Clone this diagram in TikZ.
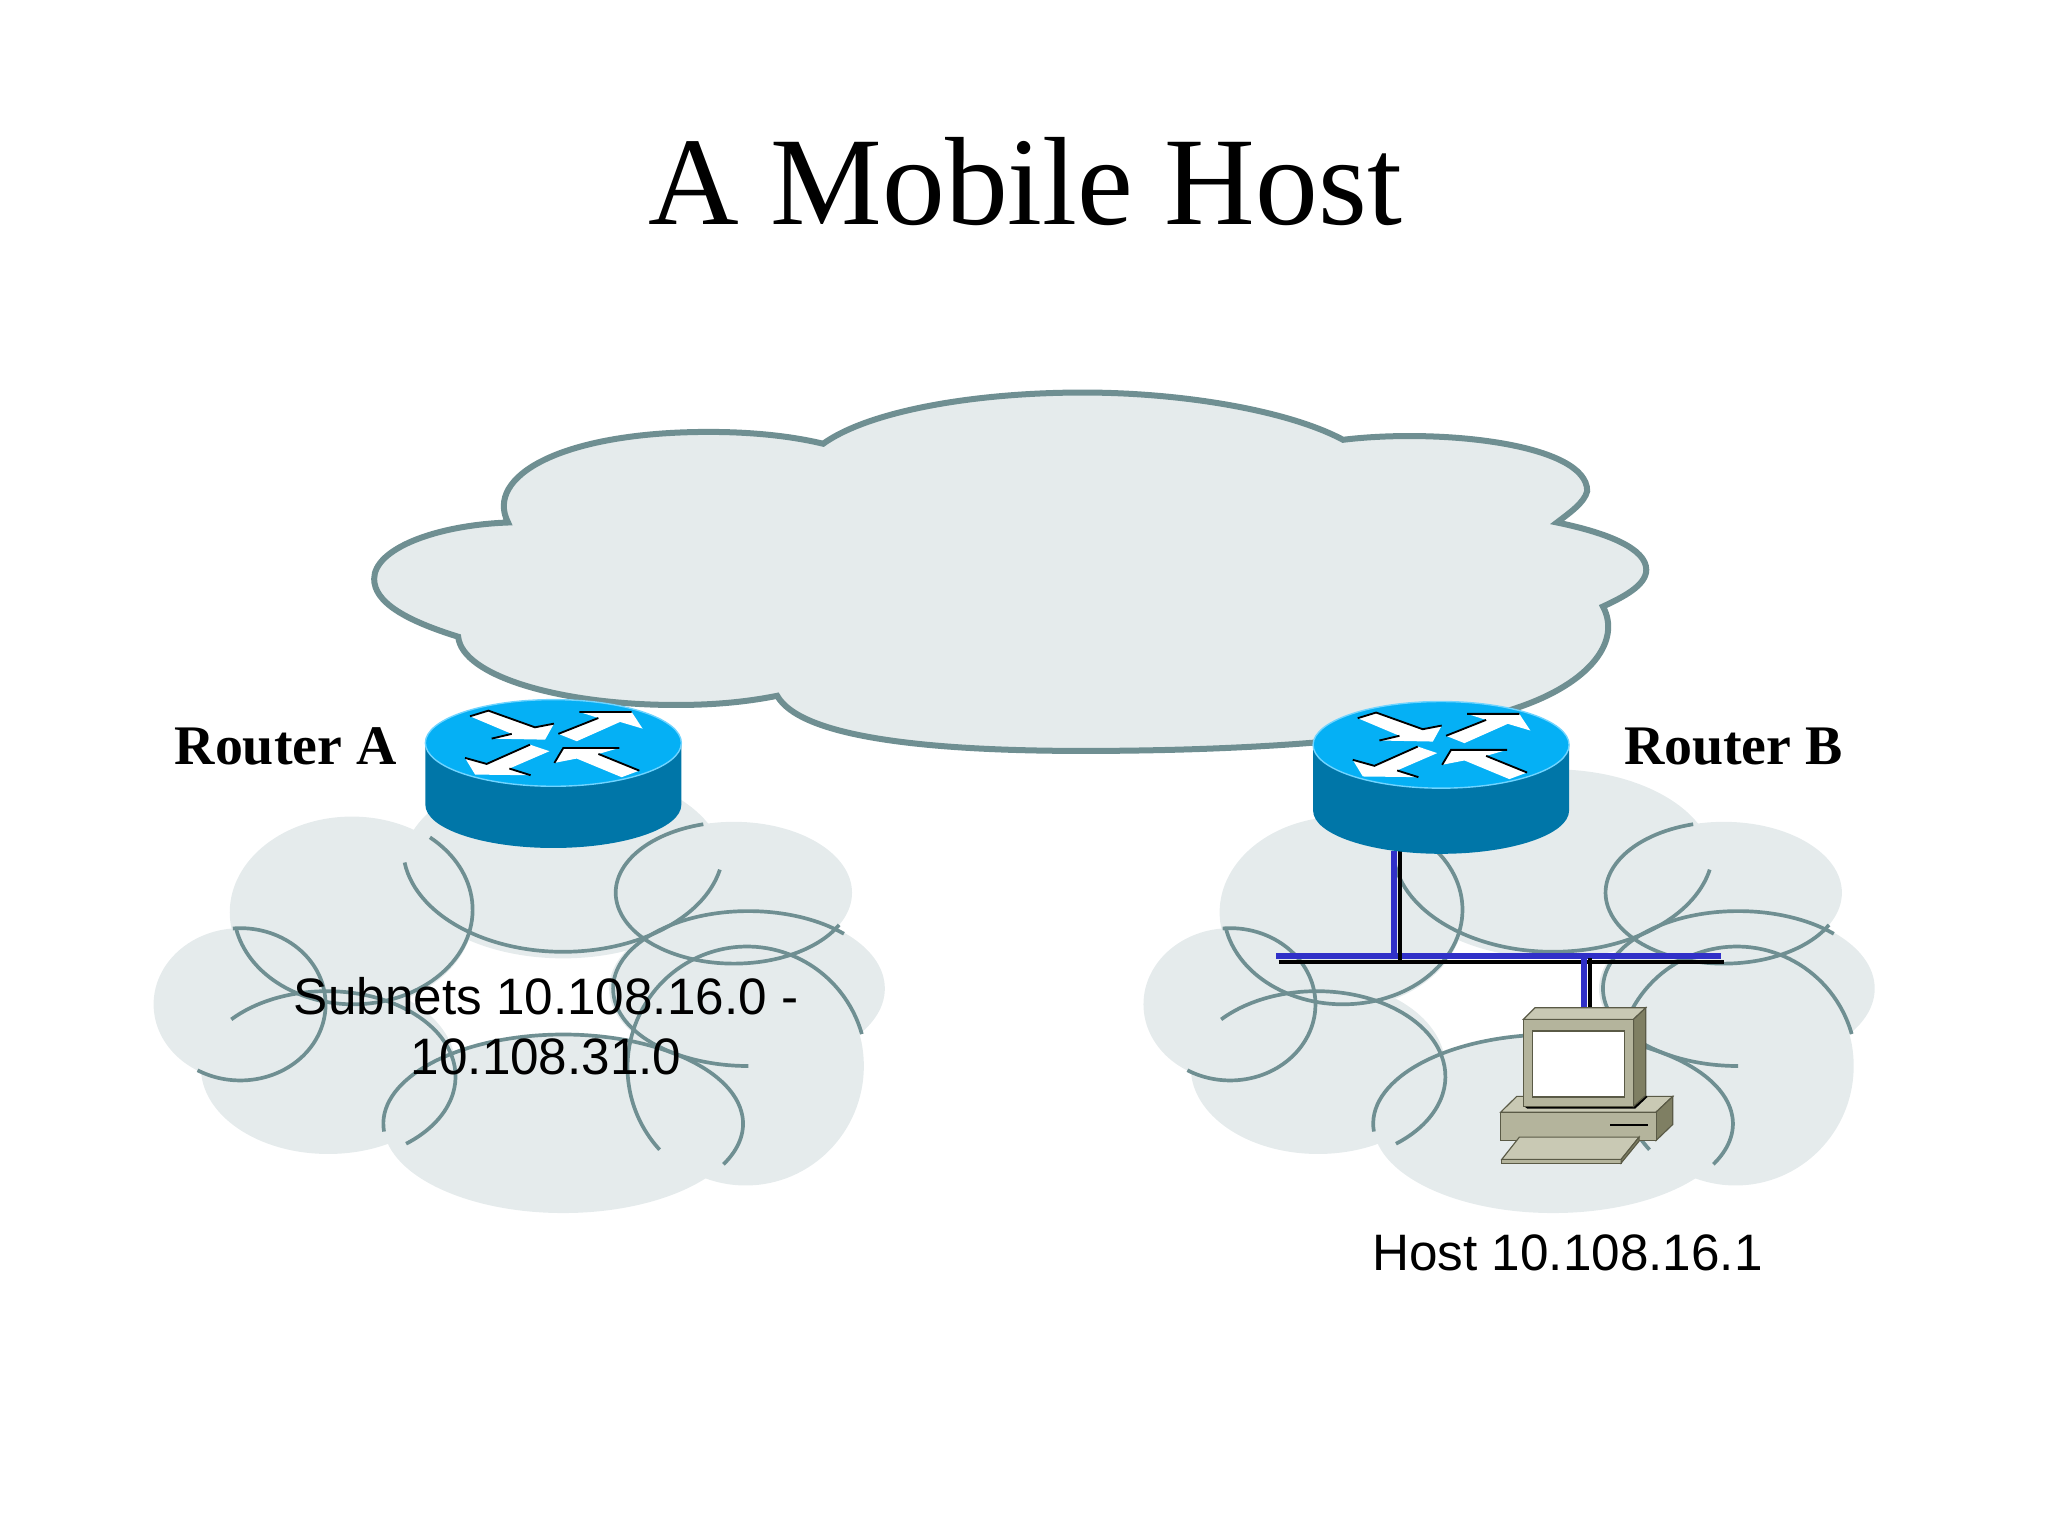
\documentclass[tikz,border=0pt]{standalone}
\usepackage{fontspec}
\setmainfont{Liberation Serif}
\setsansfont{Liberation Sans}
\usepackage{tikz}
\usetikzlibrary{positioning,calc}
\usepackage{xcolor}
\definecolor{cloudfill}{HTML}{E5EBEC}
\definecolor{cloudline}{HTML}{6F8F92}
\definecolor{routertop}{HTML}{05B0F5}
\definecolor{routerside}{HTML}{0076A8}
\definecolor{routerrim}{HTML}{70D4FF}
\definecolor{busblue}{HTML}{3030C8}
\definecolor{pcfront}{HTML}{B4B49C}
\definecolor{pctop}{HTML}{C9C9B4}
\definecolor{pcside}{HTML}{7F7F63}
\definecolor{pcedge}{HTML}{5A5A46}
%路由器:#1为node代号,#2为侧面高度
\newcommand{\routerdraw}[2]{
	\begin{scope}[shift={(#1.north)}]
		\fill[routerside] (-97.5,33)--(-97.5,33+#2) arc[start angle=180,end angle=0,x radius=97.5,y radius=33]--(97.5,33)--cycle;
		\draw[routerrim,fill=routertop,line width=.3pt] (0,33) ellipse [x radius=97.5,y radius=33];
		%四个白色箭头
		\begin{scope}[shift={(0,33)}]
			\fill[white] (-63.5,-20.3)--(-49.5,-24.6)--(-14,-11.9)--(.5,-14.7)--(-6.3,-2.5)--(-47,-3.3)--(-31.7,-6.9)--cycle;
			\fill[white] (3.8,-6.9)--(34.3,-19)--(19.8,-23.6)--(59.6,-23.6)--(68,-10.9)--(50.8,-16)--(17.8,-1.3)--cycle;
			\fill[white] (-67.3,11.4)--(-50.8,16)--(-17.8,1.3)--(-3,6.3)--(-33.5,19.5)--(-17.3,24.6)--(-59.6,24.1)--cycle;
			\fill[white] (7.6,3.8)--(.8,15.2)--(17.8,11.9)--(52,26.1)--(65.5,21.1)--(34.3,8.4)--(50.3,3.8)--cycle;
			\draw[arrowedge] (-63.5,-20.3)--(-49.5,-24.6)--(-14,-11.9)--(.5,-14.7) (-47,-3.3)--(-31.7,-6.9);
			\draw[arrowedge] (3.8,-6.9)--(34.3,-19) (19.8,-23.6)--(59.6,-23.6);
			\draw[arrowedge] (-67.3,11.4)--(-50.8,16)--(-17.8,1.3) (-33.5,19.5)--(-17.3,24.6);
			\draw[arrowedge] (.8,15.2)--(7.6,3.8)--(50.3,3.8) (34.3,8.4)--(65.5,21.1);
		\end{scope}
	\end{scope}
}
%下方的子网云:#1为水平偏移
\newcommand{\subnetcloud}[1]{
	\begin{scope}[shift={(#1,-2)}]
		\foreach \cx/\cy/\rx/\ry in {269/697/93/73,430/660/122/72,560/682/90/54,184/767/66/58,570/755/105/60,251/815/97/66,430/858/137/68,569/814/90/91}
			\fill[cloudfill] (\cx,\cy) ellipse [x radius=\rx,y radius=\ry];
		%内部弧线
		\foreach \cx/\cy/\rx/\ry/\sa/\ea in {270/695/91/72/-50/168,430/648/122/79/172/12,560/682/90/54/255/27,571/755/103/59/315/90,570/815/91/92/344/137,430/858/137/68/175/387,250/822/98/65/222/412,184/767/65/58/-95/120}
			\draw[subnetline] (\cx,\cy) ++(\sa:{\rx} and {\ry}) arc[start angle=\sa,end angle=\ea,x radius=\rx,y radius=\ry];
	\end{scope}
}

\begin{document}
\begin{tikzpicture}
				[x=.01cm,y=-.01cm,semithick]
				\tikzstyle{subnetline}=[draw=cloudline,line width=.8pt]
				\tikzstyle{arrowedge}=[draw=black,line width=.4pt]
				\tikzstyle{routerbox}=[inner sep=0pt,minimum width=1.95cm]
				\tikzstyle{hostbox}=[inner sep=0pt,minimum width=1.31cm,minimum height=1.18cm]
				\tikzstyle{bluecable}=[draw=busblue,line width=1.3pt]
				\tikzstyle{blackcable}=[draw=black,line width=.9pt]
				\tikzstyle{pcline}=[draw=pcedge,line width=.25pt]
				\tikzstyle{routerlabel}=[inner sep=0pt,anchor=base west,font=\fontsize{12.1}{14}\selectfont\bfseries]
				\tikzstyle{plainlabel}=[inner sep=0pt,font=\fontsize{11.1}{13}\selectfont\sffamily]
				\useasboundingbox (0,0) rectangle (1560,1170);
				%标题
				\node[inner sep=0pt,anchor=base,font=\fontsize{27.2}{32}\selectfont] (title) at (781,171) {A Mobile Host};
				%上方大云
				\draw[shift={(-3,-2)},fill=cloudfill,draw=cloudline,line width=1.3pt,line join=miter]
				(630,340) .. controls (665,315) and (745,301) .. (828,301)
				.. controls (905,301) and (985,315) .. (1026,337)
				.. controls (1100,328) and (1212,340) .. (1212,376)
				.. controls (1210,385) and (1198,393) .. (1189,400)
				.. controls (1228,408) and (1257,420) .. (1257,436)
				.. controls (1257,448) and (1239,457) .. (1224,464)
				.. controls (1238,490) and (1215,522) .. (1159,541)
				.. controls (1090,566) and (950,574) .. (828,574)
				.. controls (700,574) and (612,562) .. (595,532)
				.. controls (570,537) and (545,539) .. (518,539)
				.. controls (430,539) and (355,517) .. (352,487)
				.. controls (310,474) and (288,460) .. (288,443)
				.. controls (288,420) and (335,402) .. (390,400)
				.. controls (372,365) and (430,331) .. (543,331)
				.. controls (575,331) and (605,334) .. cycle;
				%两侧子网云
				\subnetcloud{-1}
				\subnetcloud{753}
				%路由器与主机的node
				\node[routerbox,minimum height=1.13cm](routerA) at (421.5,590.5)  {};
				\node[routerbox,minimum height=1.175cm](routerB) at (1097.7,594.2) {};
				\node[hostbox](host) at (1208.6,827)                               {};
				\coordinate (busL) at (974,730);
				\coordinate (busR) at (1313,730);
				\coordinate (drop) at ([shift={(-34,-6)}]routerB.south);
				%总线,蓝线在上,黑线在下
				\path
				([shift={(0,2.5)}]busL)edge[blackcable]     ([shift={(0,2.5)}]busR)
				([shift={(-2,-2)}]busL)edge[bluecable]      ([shift={(-2,-2)}]busR)
				;
				\draw[blackcable] ([shift={(2.5,0)}]drop) -- ([shift={(2.5,3)}]drop |- busL);
				\draw[bluecable]  ([shift={(-2,0)}]drop) -- ([shift={(-2,0)}]drop |- busL);
				\draw[blackcable] ([shift={(2.5,0)}]host.north) -- ([shift={(2.5,0)}]host.north |- busL);
				\draw[bluecable]  ([shift={(-2,0)}]host.north) -- ([shift={(-2,0)}]host.north |- busL);
				\routerdraw{routerA}{47}
				\routerdraw{routerB}{50}
				%主机,坐标按原图放大量取
				\begin{scope}[shift={(1135,762)},scale=.254]
					%机箱
					\filldraw[pcline,fill=pctop] (32,335)--(80,288)--(548,288)--(498,335)--cycle;
					\filldraw[pcline,fill=pcside] (498,335)--(548,288)--(548,372)--(498,420)--cycle;
					\filldraw[pcline,fill=pcfront] (32,335) rectangle (498,420);
					\draw[black,line width=.5pt] (360,374)--(473,374);
					%显示器
					\fill[black] (103,318)--(112,325)--(435,325)--(472,290)--(467,285)--(430,318)--cycle;
					\filldraw[pcline,fill=pctop] (100,57)--(135,22)--(467,22)--(430,57)--cycle;
					\filldraw[pcline,fill=pcside] (430,57)--(467,22)--(467,285)--(430,318)--cycle;
					\filldraw[pcline,fill=pcfront] (100,57) rectangle (430,318);
					\filldraw[pcline,fill=white] (128,92) rectangle (402,290);
					%键盘
					\filldraw[pcline,fill=pctop] (35,477)--(88,410)--(447,410)--(393,477)--cycle;
					\filldraw[pcline,fill=pcfront] (35,477) rectangle (393,488);
					\filldraw[pcline,fill=pcside] (393,477)--(447,410)--(447,422)--(393,488)--cycle;
				\end{scope}
				%文字
				\node[routerlabel](labelA) at (132,582)  {Router A};
				\node[routerlabel](labelB) at (1236,582) {Router B};
				\node[plainlabel,align=center](subnets) at (416,782) {Subnets 10.108.16.0 -\\10.108.31.0};
				\node[plainlabel,anchor=base](hostlabel) at (1194,968) {Host 10.108.16.1};
\end{tikzpicture}
\end{document}
